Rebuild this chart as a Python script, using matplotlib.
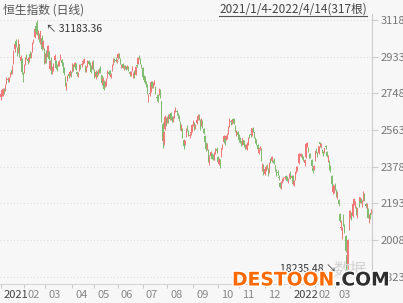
import matplotlib
matplotlib.use("Agg")
import matplotlib.pyplot as plt
from matplotlib import transforms
from matplotlib.lines import Line2D
import matplotlib.patheffects as pe
import numpy as np

plt.rcParams['font.family'] = ['Noto Sans CJK SC', 'DejaVu Sans']

# 恒生指数 daily candles, 2021/1/4 - 2022/4/14 (317 days), one row per month
opens = [
    27287, 27460, 27420, 27710, 27700, 28020, 28200, 28160, 28350, 28640, 28580, 29000, 29700, 30100, 29750, 29600, 29950, 29100, 29150, 28300,
    28600, 28950, 29400, 29200, 29150, 29450, 29350, 29600, 30150, 30350, 30900, 30850, 30300, 30500, 30100, 30300, 29800, 29750,
    29100, 29500, 29300, 29550, 28700, 29200, 28650, 28800, 29150, 29100, 28850, 28900, 28950, 29200, 29150, 28900, 28750, 28300, 27850, 28150, 28450, 28400, 28550,
    28600, 28900, 28800, 28950, 28550, 28400, 28650, 28900, 28900, 29050, 29050, 28850, 28650, 28850, 29100, 29000, 28850, 28750, 29100,
    28650, 28300, 28500, 28450, 28700, 28800, 28400, 27900, 28100, 27850, 27900, 28300, 28550, 28550, 28300, 28650, 28950, 29200, 29150, 29100,
    29250, 29450, 29200, 28850, 28950, 28750, 28800, 28800, 28750, 28800, 28550, 28400, 28650, 28400, 28600, 28400, 28900, 28950, 29300, 29200, 28900,
    28750, 28350, 28250, 28050, 27900, 27250, 27450, 27600, 28050, 27850, 27950, 27800, 27300, 27400, 27450, 27650, 27100, 25950, 25000, 25700, 26200,
    26100, 26300, 26200, 26500, 26250, 26100, 26300, 26650, 26600, 26400, 26350, 26050, 25600, 25700, 25150, 24950, 25300, 25850, 25600, 25350, 25500, 25600,
    25950, 26000, 25750, 26000, 26200, 26350, 26150, 25900, 26100, 25700, 25350, 24950, 24750, 24650, 24050, 24300, 24450, 24250, 24150, 24450, 24700,
    24250, 23900, 24000, 24300, 24800, 25050, 25250, 25200, 25250, 25500, 25850, 26100, 26050, 26150, 26200, 25850, 25450, 25550,
    25400, 25200, 25050, 24950, 25150, 24850, 24800, 24700, 24950, 25350, 25400, 25400, 25700, 25550, 25250, 25150, 24900, 24450, 24700, 24700, 23600, 23850,
    23400, 23650, 23850, 23650, 23500, 24150, 24050, 24050, 24150, 23850, 23600, 23500, 23250, 22950, 22800, 23050, 23100, 23200, 23300, 23250, 23050, 23250,
    23500, 23200, 23300, 22850, 23150, 23500, 23650, 23950, 24400, 24350, 24350, 24250, 23950, 24250, 24850, 24750, 24350, 24350, 24100, 23700, 23650,
    24100, 24700, 24500, 24450, 25050, 24850, 24650, 24550, 24500, 24850, 24550, 24150, 24050, 23700, 23300, 22500, 22550,
    22900, 22600, 22200, 22100, 21400, 20700, 20400, 21200, 20800, 20300, 19350, 18800, 20700, 21400, 21300, 21300, 21900, 21900, 21750, 21350, 21950, 22050, 22100,
    21800, 22100, 22400, 21900, 21800, 21650, 21100, 21450, 21500,
]
highs = [
    27500, 27700, 27760, 27770, 27950, 28300, 28330, 28300, 28560, 28680, 28900, 29650, 30050, 30200, 29800, 30200, 29960, 29400, 29250, 28550,
    28950, 29300, 29450, 29300, 29350, 29600, 29550, 30050, 30250, 30800, 31100, 31183.36, 30700, 30550, 30650, 30450, 30150, 29750,
    29500, 29650, 29900, 29600, 29150, 29300, 28850, 29000, 29450, 29150, 28950, 29100, 29150, 29480, 29200, 29050, 28800, 28350, 28050, 28400, 28550, 28650, 28600,
    29000, 28950, 29050, 29000, 28600, 28550, 28950, 28950, 29050, 29200, 29250, 28900, 28850, 29150, 29150, 29050, 28900, 29100, 29150,
    28700, 28650, 28600, 28700, 28750, 28850, 28400, 28300, 28150, 28100, 28250, 28650, 28650, 28650, 28500, 28950, 29250, 29250, 29300, 29200,
    29500, 29500, 29250, 28950, 29000, 28900, 28900, 28850, 28900, 28850, 28600, 28600, 28850, 28550, 28650, 28850, 28950, 29300, 29400, 29250, 28950,
    28800, 28400, 28350, 28100, 27950, 27450, 27650, 28100, 28100, 28050, 28150, 27850, 27400, 27450, 27750, 27700, 27100, 26050, 25600, 26400, 26300,
    26350, 26450, 26500, 26550, 26350, 26350, 26650, 26800, 26650, 26500, 26400, 26100, 25950, 25750, 25200, 25150, 25750, 25900, 25650, 25500, 25650, 25950,
    26150, 26050, 25950, 26250, 26450, 26450, 26200, 26250, 26150, 25750, 25400, 25050, 25000, 24700, 24350, 24600, 24500, 24400, 24550, 24750, 24800,
    24300, 24200, 24150, 24750, 24950, 25400, 25300, 25400, 25500, 25850, 26250, 26150, 26200, 26250, 26250, 25900, 25650, 25600,
    25450, 25300, 25100, 25250, 25150, 24950, 24950, 25050, 25300, 25450, 25500, 25750, 25800, 25550, 25300, 25200, 24950, 24700, 24850, 24750, 23950, 23900,
    23750, 23850, 23900, 23700, 24000, 24200, 24300, 24100, 24200, 23850, 23650, 23600, 23350, 23000, 23050, 23200, 23250, 23300, 23350, 23300, 23200, 23450,
    23550, 23350, 23350, 23100, 23550, 23800, 23800, 24450, 24500, 24500, 24400, 24300, 24150, 24950, 25050, 24800, 24450, 24450, 24150, 23750, 23850,
    24600, 24750, 24550, 24850, 25050, 25000, 24700, 24600, 24750, 24900, 24600, 24350, 24100, 23850, 23350, 22900, 22850,
    22950, 22650, 22550, 22150, 21450, 21100, 20750, 21400, 20900, 20350, 19500, 20150, 21600, 21600, 21500, 21950, 22200, 22050, 21800, 21700, 22150, 22250, 22200,
    22100, 22550, 22450, 21950, 21950, 21700, 21400, 21450, 21650,
]
lows = [
    27150, 27350, 27350, 27450, 27600, 27950, 28050, 28050, 28300, 28450, 28450, 28950, 29550, 29800, 29350, 29500, 29300, 29000, 28450, 28050,
    28500, 28900, 29200, 28950, 29050, 29250, 29250, 29550, 30000, 30300, 30500, 30450, 30200, 30050, 29950, 29650, 29700, 28950,
    29000, 29000, 29250, 29150, 28650, 28450, 28450, 28600, 29050, 28700, 28600, 28850, 28850, 29150, 28850, 28700, 28400, 27850, 27650, 28100, 28250, 28350, 28300,
    28550, 28600, 28700, 28650, 28350, 28300, 28600, 28700, 28800, 28950, 29000, 28550, 28550, 28800, 28900, 28850, 28500, 28700, 28650,
    28250, 28200, 28300, 28400, 28500, 28500, 27900, 27850, 27650, 27800, 27850, 28250, 28400, 28400, 28250, 28600, 28900, 29050, 29050, 29000,
    29200, 29250, 28950, 28750, 28750, 28650, 28700, 28650, 28700, 28600, 28350, 28350, 28600, 28250, 28250, 28400, 28800, 28950, 29200, 28950, 28750,
    28250, 28050, 27950, 27800, 27450, 27050, 27350, 27550, 27750, 27750, 27900, 27450, 27100, 27050, 27400, 27250, 26050, 24750, 24900, 25650, 25850,
    26000, 26000, 26150, 26150, 26050, 26050, 26250, 26550, 26400, 26300, 26100, 25650, 25600, 25250, 24700, 24900, 25300, 25600, 25350, 25250, 25400, 25550,
    25850, 25650, 25700, 25950, 26150, 26150, 25650, 25850, 25750, 25450, 24950, 24600, 24650, 24000, 23850, 24200, 24150, 24100, 24100, 24400, 24450,
    23950, 23850, 23700, 24250, 24700, 25000, 24900, 25150, 25200, 25450, 25800, 25900, 25950, 26000, 25950, 25550, 25350, 25300,
    25050, 25000, 24850, 24900, 24800, 24700, 24700, 24650, 24900, 25250, 25300, 25350, 25550, 25250, 25000, 24900, 24550, 24400, 24650, 24050, 23550, 23350,
    23350, 23550, 23650, 23300, 23450, 23950, 24000, 23950, 23900, 23550, 23300, 23350, 23100, 22700, 22650, 22950, 23050, 23150, 23200, 23050, 22950, 23200,
    23150, 23050, 22850, 22800, 23100, 23450, 23550, 23900, 24300, 24250, 24150, 24050, 23800, 24200, 24800, 24550, 24200, 24200, 23750, 23450, 23600,
    24050, 24450, 24250, 24400, 24800, 24750, 24450, 24300, 24450, 24700, 24250, 24000, 23600, 23500, 22600, 22400, 22450,
    22600, 22250, 22150, 21800, 21000, 20600, 20150, 20800, 20450, 19500, 18235.48, 18600, 20600, 21200, 21100, 21250, 21850, 21700, 21350, 21200, 21750, 21950, 21950,
    21750, 22050, 22050, 21700, 21600, 21200, 20950, 21150, 21400,
]
closes = [
    27473, 27650, 27692, 27549, 27878, 28277, 28165, 28236, 28497, 28574, 28863, 29642, 29962, 29928, 29448, 30159, 29391, 29298, 28551, 28284,
    28893, 29249, 29307, 29114, 29289, 29319, 29476, 30039, 30174, 30747, 30584, 30595, 30645, 30156, 30633, 29718, 30074, 28980,
    29453, 29096, 29880, 29237, 29098, 28541, 28773, 28908, 29385, 28740, 28834, 29028, 29034, 29406, 28991, 28885, 28497, 27918, 27900, 28336, 28338, 28578, 28378,
    28939, 28675, 29008, 28699, 28453, 28497, 28901, 28793, 28970, 29106, 29136, 28622, 28755, 29079, 28953, 28942, 28575, 29071, 28725,
    28358, 28557, 28418, 28637, 28611, 28596, 28014, 28231, 27719, 28028, 28174, 28594, 28450, 28458, 28412, 28911, 29166, 29113, 29124, 29152,
    29468, 29297, 28966, 28918, 28787, 28781, 28743, 28739, 28842, 28639, 28437, 28559, 28801, 28489, 28310, 28817, 28882, 29288, 29268, 28994, 28828,
    28310, 28143, 28073, 27960, 27529, 27345, 27515, 28081, 27787, 27996, 28005, 27490, 27259, 27225, 27724, 27322, 26192, 25086, 25474, 26315, 25961,
    26236, 26195, 26427, 26205, 26179, 26283, 26606, 26660, 26518, 26392, 26181, 25746, 25867, 25316, 24850, 25110, 25728, 25694, 25416, 25408, 25540, 25879,
    26028, 25762, 25902, 26164, 26354, 26321, 25716, 26206, 25814, 25502, 25033, 24668, 24921, 24099, 24222, 24511, 24192, 24209, 24500, 24664, 24576,
    24036, 24104, 23966, 24702, 24838, 25325, 24963, 25331, 25410, 25787, 26136, 26018, 26127, 26132, 26038, 25629, 25556, 25377,
    25154, 25100, 25025, 25225, 24871, 24813, 24813, 24996, 25248, 25328, 25391, 25714, 25650, 25320, 25050, 24951, 24652, 24686, 24740, 24081, 23852, 23475,
    23659, 23789, 23767, 23349, 23984, 23997, 24255, 23996, 23955, 23636, 23421, 23476, 23193, 22745, 22971, 23102, 23194, 23224, 23281, 23087, 23112, 23398,
    23275, 23290, 22907, 23073, 23493, 23747, 23739, 24402, 24430, 24383, 24218, 24113, 24128, 24952, 24966, 24656, 24244, 24290, 23807, 23550, 23802,
    24573, 24580, 24329, 24830, 24924, 24907, 24557, 24356, 24719, 24793, 24328, 24170, 23689, 23660, 22902, 22767, 22713,
    22762, 22344, 22467, 21905, 21058, 20766, 20628, 20890, 20554, 19532, 18415, 20088, 21501, 21412, 21221, 21889, 22154, 21946, 21405, 21685, 21928, 22232, 21997,
    22040, 22502, 22081, 21809, 21872, 21208, 21319, 21374, 21518,
]

# first trading day of each labelled month
month_starts = [0, 20, 38, 61, 80, 100, 121, 142, 164, 185, 203, 225, 247, 268, 285]
month_labels = ['2021', '02', '03', '04', '05', '06', '07', '08', '09', '10', '11', '12', '2022', '02', '03']

W, H = 403, 303
fig = plt.figure(figsize=(W / 100, H / 100), dpi=100)
fig.patch.set_facecolor('#f7f7f7')

# plot box in pixels: right axis at x=372, x axis at y=284
ax = fig.add_axes([0, 1 - 284 / H, 372 / W, (284 - 14) / H])
ax.set_facecolor('#f7f7f7')

o = np.array(opens, dtype=float)
h = np.array(highs, dtype=float)
l = np.array(lows, dtype=float)
c = np.array(closes, dtype=float)
n = len(c)
x = np.arange(n)

up = c >= o
colors = np.where(up, '#ef7777', '#80bc70')

ax.vlines(x, l, h, colors=colors, linewidth=0.7, zorder=3)
body = np.maximum(np.abs(c - o), 40)
ax.bar(x, body, bottom=np.minimum(o, c), width=0.8, color=colors, linewidth=0, zorder=3)

hi, lo = h.max(), l.min()
step = (hi - lo) / 7
upp = step / 36.67  # value per pixel
ax.set_xlim(-0.5, n - 0.5)
ax.set_ylim(lo - 7.3 * upp, hi + 6 * upp)

yt = np.linspace(lo, hi, 8)
ax.set_yticks(yt)
ax.set_yticklabels(['%d' % v for v in yt])
ax.yaxis.tick_right()
ax.tick_params(axis='y', direction='out', length=4, width=0.8, color='#cccccc',
               labelsize=8, labelcolor='#777777', pad=2)
for v in yt:
    ax.axhline(v, color='#dcdcdc', linewidth=0.8, linestyle=(0, (1, 2)), zorder=1)

ax.set_xticks(month_starts)
ax.set_xticklabels(month_labels)
ax.tick_params(axis='x', direction='out', length=3, width=0.8, color='#cccccc',
               labelsize=8, labelcolor='#888888', pad=1)
shift = transforms.ScaledTranslation(3 / 100, 0, fig.dpi_scale_trans)
for lab in ax.get_xticklabels():
    lab.set_horizontalalignment('left')
    lab.set_transform(lab.get_transform() + shift)
    if len(lab.get_text()) == 4:
        lab.set_color('#444444')

for side in ['top', 'left']:
    ax.spines[side].set_visible(False)
ax.spines['right'].set_color('#cccccc')
ax.spines['bottom'].set_color('#d5d5d5')

# max / min labels
imax, imin = int(np.argmax(h)), int(np.argmin(l))
ax.annotate('↖ %.2f' % h[imax], xy=(imax, h[imax]), xytext=(9, -9), textcoords='offset pixels',
            ha='left', va='center', fontsize=7.5, color='#333333', zorder=5)
ax.annotate('%.2f ↘' % l[imin], xy=(imin, l[imin]), xytext=(-10, 8), textcoords='offset pixels',
            ha='right', va='center', fontsize=7.5, color='#333333', zorder=5)

# header
fig.text(3 / W, 1 - 10 / H, '恒生指数 (日线)', ha='left', va='center', fontsize=8.5, color='#555555')
rng = fig.text(367 / W, 1 - 9 / H, '2021/1/4-2022/4/14(317根)', ha='right', va='center',
               fontsize=8.5, color='#444444')

# watermark
fig.text(350 / W, 1 - 270 / H, '数据', ha='center', va='center', fontsize=12, color='#d4d4d4', zorder=0)
halo = [pe.withStroke(linewidth=2, foreground='white')]
wm1 = fig.text(232 / W, 1 - 280 / H, 'DESTOON', ha='left', va='center', fontsize=13.5,
               fontweight='bold', family='DejaVu Sans', color='#ff6a00', zorder=10, path_effects=halo)
fig.canvas.draw()
x_end = wm1.get_window_extent().x1
fig.text(x_end / W, 1 - 280 / H, '.COM', ha='left', va='center', fontsize=13.5,
         fontweight='bold', family='DejaVu Sans', color='#2e2e2e', zorder=10, path_effects=halo)

bb = rng.get_window_extent()
fig.add_artist(Line2D([bb.x0 / W, bb.x1 / W], [1 - 15.5 / H, 1 - 15.5 / H],
                      transform=fig.transFigure, color='#555555', linewidth=0.8))

fig.savefig('out.png', dpi=100, facecolor=fig.get_facecolor())
